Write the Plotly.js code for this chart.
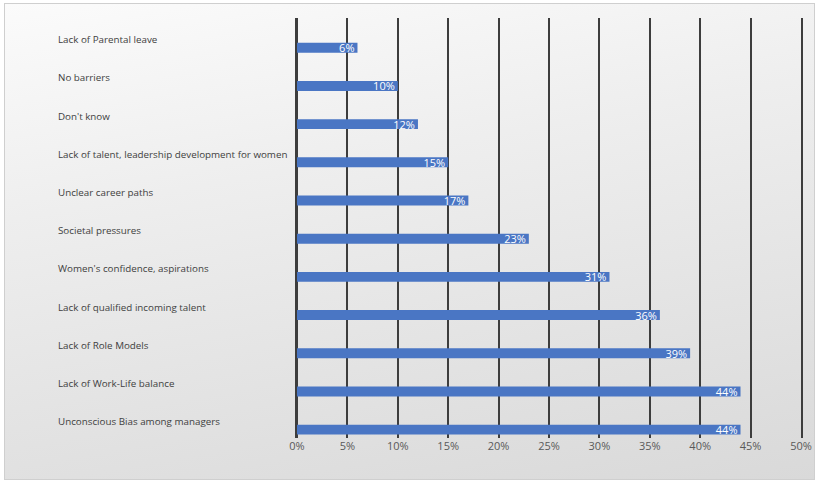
<!DOCTYPE html>
<html>
<head>
<meta charset="utf-8">
<script src="https://cdn.plot.ly/plotly-3.0.1.min.js"></script>
<style>
  html, body { margin: 0; padding: 0; width: 816px; height: 481px; background: #ffffff; overflow: hidden; }
  #bg { position: absolute; left: 4px; top: 3px; width: 811px; height: 477px; box-sizing: border-box;
        border: 1px solid #cfcfcf;
        background: linear-gradient(170deg, #fbfbfb 0%, #eeeeee 35%, #d9d9d9 100%); }
  #chart { position: absolute; left: 0; top: 0; width: 816px; height: 481px; }
</style>
</head>
<body>
<div id="bg"></div>
<div id="chart"></div>
<script>
const categories = [
  "Lack of Parental leave",
  "No barriers",
  "Don't know",
  "Lack of talent, leadership development for women",
  "Unclear career paths",
  "Societal pressures",
  "Women's confidence, aspirations",
  "Lack of qualified incoming talent",
  "Lack of Role Models",
  "Lack of Work-Life balance",
  "Unconscious Bias among managers"
];
const values = [6, 10, 12, 15, 17, 23, 31, 36, 39, 44, 44];
const tickValues = [0, 5, 10, 15, 20, 25, 30, 35, 40, 45, 50];
const tickLabels = ["0%", "5%", "10%", "15%", "20%", "25%", "30%", "35%", "40%", "45%", "50%"];

const W = 816, L = 297, R = 15;
const plotW = W - L - R;
const labelX = (56 - L) / plotW;
const lineColor = "#3d3d3d";

const trace = {
  type: "bar",
  orientation: "h",
  x: values,
  y: categories,
  width: 0.26,
  marker: { color: "#4a76c4" },
  text: values.map(v => v + "%"),
  textposition: "inside",
  insidetextanchor: "end",
  constraintext: "none",
  textfont: { family: "Open Sans, sans-serif", size: 11, color: "#ffffff" },
  cliponaxis: false,
  hoverinfo: "skip"
};

const annotations = categories.map(c => ({
  xref: "paper", yref: "y",
  x: labelX, y: c,
  xanchor: "left", yanchor: "middle",
  yshift: 8,
  text: c,
  showarrow: false,
  font: { family: "Open Sans, sans-serif", size: 9.8, color: "#404040" }
}));

const layout = {
  width: 816, height: 481,
  margin: { l: L, r: R, t: 18, b: 43, pad: 0 },
  paper_bgcolor: "rgba(0,0,0,0)",
  plot_bgcolor: "rgba(0,0,0,0)",
  showlegend: false,
  xaxis: {
    range: [0, 50],
    tickvals: tickValues,
    ticktext: tickLabels,
    showgrid: true,
    gridcolor: lineColor,
    gridwidth: 2,
    zeroline: true,
    zerolinecolor: lineColor,
    zerolinewidth: 2,
    showline: false,
    ticks: "",
    tickfont: { family: "Open Sans, sans-serif", size: 11, color: "#595959" },
    fixedrange: true
  },
  yaxis: {
    type: "category",
    range: [10.22, -0.78],
    showticklabels: false,
    showgrid: false,
    zeroline: false,
    showline: true,
    mirror: true,
    linecolor: lineColor,
    linewidth: 2,
    ticks: "",
    fixedrange: true
  },
  annotations: annotations
};

Plotly.newPlot("chart", [trace], layout, { displayModeBar: false, staticPlot: true });
</script>
</body>
</html>
